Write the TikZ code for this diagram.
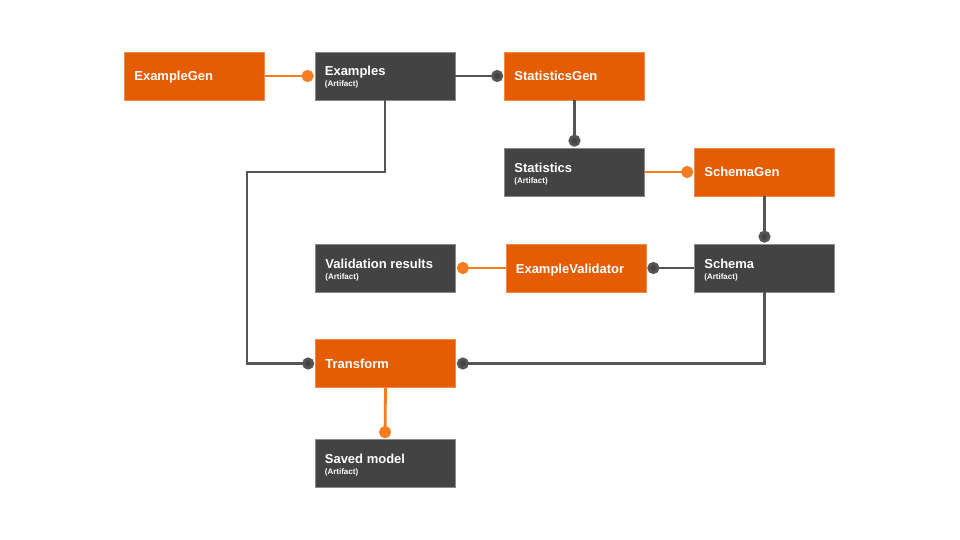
\documentclass[tikz,border=0pt]{standalone}
\usepackage{fontspec}
\setmainfont{Liberation Sans}
\usetikzlibrary{arrows.meta}
\definecolor{tfxorange}{HTML}{E65C00}
\definecolor{tfxorangeedge}{HTML}{F08A4B}
\definecolor{dotorange}{HTML}{F57C1F}
\definecolor{tfxgray}{HTML}{434343}
\definecolor{grayedge}{HTML}{8A8A8A}
\definecolor{linegray}{HTML}{555555}
\tikzset{
  box/.style={rectangle, minimum width=140pt, minimum height=48pt, inner sep=0pt, line width=0.7pt},
  component/.style={box, fill=tfxorange, draw=tfxorangeedge},
  artifact/.style={box, fill=tfxgray, draw=grayedge},
  title/.style={inner sep=0pt, text=white, font=\bfseries\fontsize{13}{15}\selectfont},
  subtitle/.style={inner sep=0pt, text=white, font=\bfseries\fontsize{8}{9}\selectfont},
  ocon/.style={draw=dotorange, line width=2.8pt, -{Circle[length=12pt,width=12pt]}, shorten >=1pt},
  gcon/.style={draw=linegray, line width=2.8pt, -{Circle[length=12pt,width=12pt,fill=tfxgray]}, shorten >=1pt},
}
\begin{document}
\begin{tikzpicture}[x=1pt,y=-1pt]
\useasboundingbox[fill=white] (0,0) rectangle (960,540);
% boxes
\node[component] (exgen) at (194.5,76) {};
\node[artifact] (examples) at (385,76) {};
\node[component] (statgen) at (574.5,76) {};
\node[artifact] (stats) at (574.5,172) {};
\node[component] (schemagen) at (764.5,172) {};
\node[artifact] (valres) at (385.5,268) {};
\node[component] (exval) at (576,268) {};
\node[artifact] (schema) at (764.5,268) {};
\node[component] (transform) at (385.5,363.5) {};
\node[artifact] (saved) at (385,463.5) {};
% texts
\node[title, anchor=base west] (exgen-t) at ([xshift=10pt,yshift=-5pt]exgen.west) {ExampleGen};
\node[title, anchor=base west] (examples-t) at ([xshift=10pt]examples.west) {Examples};
\node[subtitle, anchor=base west] (examples-s) at ([xshift=10pt,yshift=-11pt]examples.west) {(Artifact)};
\node[title, anchor=base west] (statgen-t) at ([xshift=10pt,yshift=-5pt]statgen.west) {StatisticsGen};
\node[title, anchor=base west] (stats-t) at ([xshift=10pt]stats.west) {Statistics};
\node[subtitle, anchor=base west] (stats-s) at ([xshift=10pt,yshift=-11pt]stats.west) {(Artifact)};
\node[title, anchor=base west] (schemagen-t) at ([xshift=10pt,yshift=-5pt]schemagen.west) {SchemaGen};
\node[title, anchor=base west] (valres-t) at ([xshift=10pt]valres.west) {Validation results};
\node[subtitle, anchor=base west] (valres-s) at ([xshift=10pt,yshift=-11pt]valres.west) {(Artifact)};
\node[title, anchor=base west] (exval-t) at ([xshift=10pt,yshift=-5pt]exval.west) {ExampleValidator};
\node[title, anchor=base west] (schema-t) at ([xshift=10pt]schema.west) {Schema};
\node[subtitle, anchor=base west] (schema-s) at ([xshift=10pt,yshift=-11pt]schema.west) {(Artifact)};
\node[title, anchor=base west] (transform-t) at ([xshift=10pt,yshift=-5pt]transform.west) {Transform};
\node[title, anchor=base west] (saved-t) at ([xshift=10pt]saved.west) {Saved model};
\node[subtitle, anchor=base west] (saved-s) at ([xshift=10pt,yshift=-11pt]saved.west) {(Artifact)};
% connectors
\coordinate (bend) at (247,172);
\draw[ocon] (exgen.east) -- (examples.west);
\draw[gcon] (examples.east) -- (statgen.west);
\draw[gcon] (statgen.south) -- (stats.north);
\draw[ocon] (stats.east) -- (schemagen.west);
\draw[gcon] (schemagen.south) -- (schema.north);
\draw[gcon] (schema.west) -- (exval.east);
\draw[ocon] (exval.west) -- (valres.east);
\draw[gcon] (examples.south) |- (bend) |- (transform.west);
\draw[gcon] (schema.south) |- (transform.east);
\draw[ocon] (transform.south) -- (saved.north);
\end{tikzpicture}
\end{document}
